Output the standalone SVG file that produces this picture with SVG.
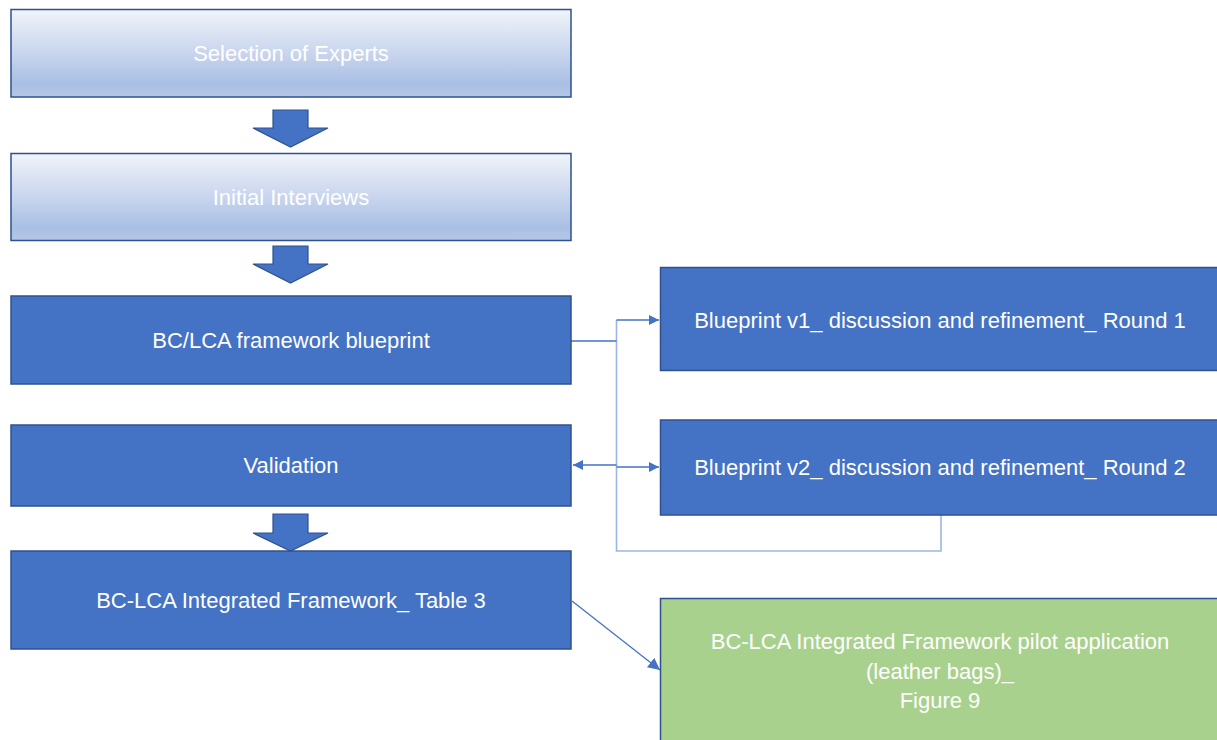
<svg xmlns="http://www.w3.org/2000/svg" width="1217" height="740" viewBox="0 0 1217 740">
  <style>
    .box { fill: #4472C4; stroke: #2F528F; stroke-width: 1.5; }
    .soft { fill: url(#softBlue); stroke: #2F528F; stroke-width: 1.5; }
    .green { fill: #A9D18E; stroke: #2F528F; stroke-width: 1.5; }
    .blk { fill: #4472C4; stroke: #2F528F; stroke-width: 1.2; }
    .lbl { font-family: "Liberation Sans", Arial, sans-serif; font-size: 22px; fill: #FFFFFF; text-anchor: middle; dominant-baseline: central; }
    .link { fill: none; stroke: #4472C4; stroke-width: 1.3; }
    .trace { fill: none; stroke: #9DB5E3; stroke-width: 1.6; }
  </style>
  <defs>
    <linearGradient id="softBlue" x1="0" y1="0" x2="0" y2="1">
      <stop offset="0" stop-color="#F1F4FA"/>
      <stop offset="0.55" stop-color="#C4D2EC"/>
      <stop offset="0.85" stop-color="#A9BFE4"/>
      <stop offset="1" stop-color="#B4C7E8"/>
    </linearGradient>
    <marker id="head" viewBox="0 0 10 10" refX="10" refY="5" markerWidth="10" markerHeight="10" markerUnits="userSpaceOnUse" orient="auto">
      <path d="M0,0 L10,5 L0,10 Z" fill="#4472C4"/>
    </marker>
    <marker id="headL" viewBox="0 0 12 12" refX="12" refY="6" markerWidth="12" markerHeight="12" markerUnits="userSpaceOnUse" orient="auto">
      <path d="M0,0 L12,6 L0,12 Z" fill="#4472C4"/>
    </marker>
  </defs>

  <!-- connectors -->
  <g id="connectors">
    <!-- vertical trunk and feedback loop -->
    <path class="trace" d="M616.5,320 V551 H941 V515"/>
    <path class="link" d="M571,341 H616.5"/>
    <path class="link" d="M616.5,320 H659" marker-end="url(#head)"/>
    <path class="link" d="M616.5,467 H659" marker-end="url(#head)"/>
    <path class="link" d="M616.5,465 H573" marker-end="url(#head)"/>
    <path class="link" d="M572,601 L660,670" marker-end="url(#headL)"/>
    <!-- block arrows -->
    <path class="blk" d="M273,110 H308 V128 H328 L290.5,147 L253,128 H273 Z"/>
    <path class="blk" d="M273,246 H308 V264 H328 L290.5,283 L253,264 H273 Z"/>
    <path class="blk" d="M273,514 H308 V533 H328 L290.5,551 L253,533 H273 Z"/>
  </g>

  <g id="selection">
    <rect class="soft" x="11" y="9.5" width="560" height="87.5"/>
    <text class="lbl" x="291" y="53">Selection of Experts</text>
  </g>

  <g id="interviews">
    <rect class="soft" x="11" y="153.5" width="560" height="87"/>
    <text class="lbl" x="291" y="197">Initial Interviews</text>
  </g>

  <g id="blueprint">
    <rect class="box" x="11" y="296" width="560" height="88"/>
    <text class="lbl" x="291" y="340">BC/LCA framework blueprint</text>
  </g>

  <g id="validation">
    <rect class="box" x="11" y="425" width="560" height="81"/>
    <text class="lbl" x="291" y="465">Validation</text>
  </g>

  <g id="framework">
    <rect class="box" x="11" y="551" width="560" height="98"/>
    <text class="lbl" x="291" y="600">BC-LCA Integrated Framework_ Table 3</text>
  </g>

  <g id="round1">
    <rect class="box" x="660.5" y="267.5" width="562" height="103"/>
    <text class="lbl" x="940" y="320">Blueprint v1_ discussion and refinement_ Round 1</text>
  </g>

  <g id="round2">
    <rect class="box" x="660.5" y="420" width="562" height="95"/>
    <text class="lbl" x="940" y="467">Blueprint v2_ discussion and refinement_ Round 2</text>
  </g>

  <g id="pilot">
    <rect class="green" x="660.5" y="598.5" width="562" height="150"/>
    <text class="lbl" x="940" y="641">BC-LCA Integrated Framework pilot application</text>
    <text class="lbl" x="940" y="671">(leather bags)_</text>
    <text class="lbl" x="940" y="700">Figure 9</text>
  </g>
</svg>
